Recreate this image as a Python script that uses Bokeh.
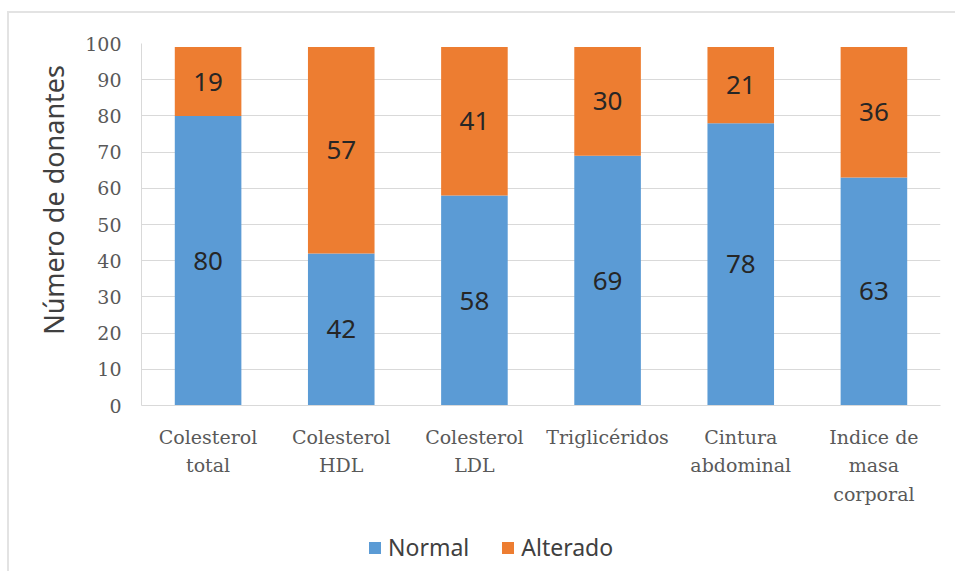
from bokeh.plotting import figure
from bokeh.layouts import column
from bokeh.models import ColumnDataSource, Legend, LegendItem, Range1d, FixedTicker
from bokeh.core.properties import value
from bokeh.embed import file_html
from bokeh.resources import INLINE
import numpy as np

categories = ["Colesterol\ntotal", "Colesterol\nHDL", "Colesterol\nLDL", "Triglicéridos", "Cintura\nabdominal", "Indice de\nmasa\ncorporal"]
normal = [80, 42, 58, 69, 78, 63]
alterado = [19, 57, 41, 30, 21, 36]
series = ["Normal", "Alterado"]
colors = ["#5b9bd5", "#ed7d31"]
y_ticks = list(range(0, 101, 10))
y_title = "Número de donantes"

src = ColumnDataSource(dict(cat=categories, Normal=normal, Alterado=alterado))

W = 946
p = figure(x_range=categories, y_range=Range1d(0, 100), width=W, height=518,
           output_backend="svg", toolbar_location=None,
           min_border_left=132, min_border_right=15, min_border_top=30, min_border_bottom=126)
p.outline_line_color = None

p.vbar_stack(series, x="cat", width=0.5, source=src, color=colors, line_color=None)

n = np.array(normal)
a = np.array(alterado)
lab = ColumnDataSource(dict(x=categories + categories,
                            y=list(n / 2) + list(n + a / 2),
                            t=[str(v) for v in normal] + [str(v) for v in alterado]))
p.text(x="x", y="y", text="t", source=lab, text_align="center", text_baseline="middle",
       text_font=value("Noto Sans"), text_font_size="26px", text_color="#262626")

p.xgrid.grid_line_color = None
p.ygrid.grid_line_color = "#d9d9d9"
p.ygrid.grid_line_width = 1
p.yaxis.ticker = FixedTicker(ticks=y_ticks)
p.yaxis.major_tick_line_color = None
p.yaxis.minor_tick_line_color = None
p.yaxis.axis_line_color = "#d9d9d9"
p.yaxis.major_label_text_font = "DejaVu Serif"
p.yaxis.major_label_text_font_size = "19px"
p.yaxis.major_label_text_color = "#595959"
p.yaxis.major_label_standoff = 14
# leading no-break spaces shift the title up, as in the reference
p.yaxis.axis_label = "\u00a0" * 7 + y_title
p.yaxis.axis_label_text_font = "Noto Sans"
p.yaxis.axis_label_text_font_style = "normal"
p.yaxis.axis_label_text_font_size = "27px"
p.yaxis.axis_label_text_color = "#404040"
p.yaxis.axis_label_standoff = 10

p.xaxis.major_tick_line_color = None
p.xaxis.minor_tick_line_color = None
p.xaxis.axis_line_color = "#d9d9d9"
p.xaxis.major_label_text_font = "DejaVu Serif"
p.xaxis.major_label_text_font_size = "19px"
p.xaxis.major_label_text_color = "#595959"
p.xaxis.major_label_text_line_height = 1.3
p.xaxis.major_label_standoff = 14

# legend strip (frame is aligned with the main plot's frame by the column layout)
lg = figure(width=W, height=40, x_range=Range1d(0, 1), y_range=Range1d(0, 1),
            output_backend="svg", toolbar_location=None, min_border=0)
lg.axis.visible = False
lg.grid.grid_line_color = None
lg.outline_line_color = None
items = []
for s, c in zip(series, colors):
    rr = lg.vbar(x=[0.5], top=[0], bottom=[0], width=0.0, color=c, line_color=None)
    items.append(LegendItem(label=s, renderers=[rr]))
legend = Legend(items=items, orientation="horizontal", location=(226, 8),
                label_text_font="Noto Sans", label_text_font_size="23px", label_text_color="#404040",
                glyph_width=15, glyph_height=15, label_standoff=6, spacing=31,
                border_line_color=None, background_fill_alpha=0, margin=0, padding=4)
lg.add_layout(legend, "center")

layout = column(p, lg, spacing=0, margin=(11, 0, 0, 7),
                styles={"border-top": "2px solid #e3e3e3", "border-left": "2px solid #e3e3e3"})

open("out.html", "w").write(file_html(layout, INLINE))
